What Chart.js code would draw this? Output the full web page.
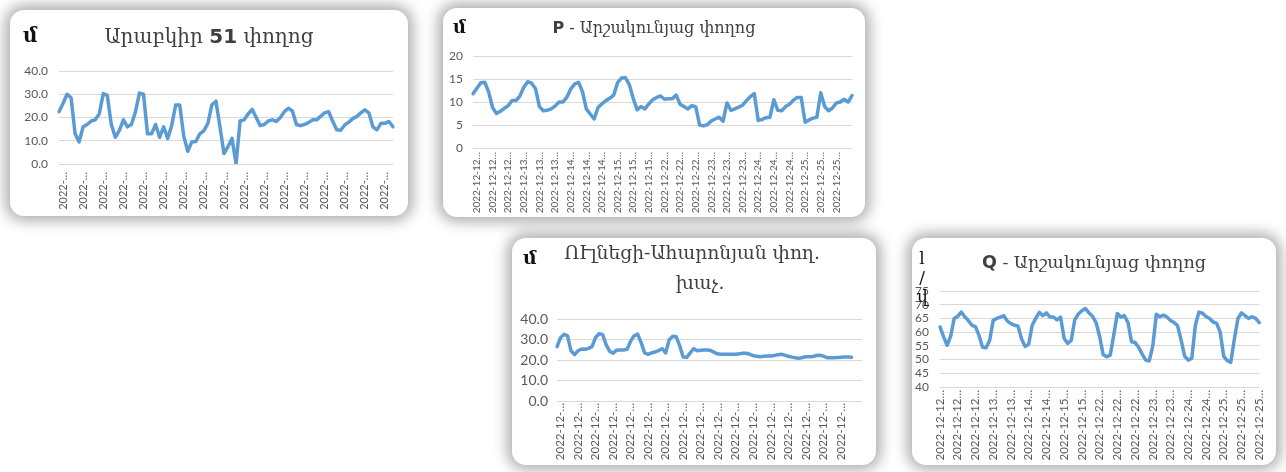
<!DOCTYPE html>
<html><head><meta charset="utf-8">
<script src="https://cdn.jsdelivr.net/npm/chart.js@4.4.1/dist/chart.umd.min.js"></script>
<style>
html,body{margin:0;padding:0;background:#fff;width:1286px;height:472px;overflow:hidden;}
.card{position:absolute;background:#fff;border-radius:14px;box-shadow:0 0 14px 5px rgba(0,0,0,0.32);}
.card canvas{position:absolute;left:0;top:0;}
.title{position:absolute;left:0;width:100%;text-align:center;font-family:"DejaVu Serif",serif;color:#404040;white-space:nowrap;}
.title b{font-family:"DejaVu Sans",sans-serif;font-weight:bold;}
.unit{position:absolute;font-family:"DejaVu Serif",serif;font-weight:bold;color:#111;}
</style></head>
<body>
<div class="card" style="left:10px;top:10px;width:398px;height:206px;">
  <canvas id="c1" width="398" height="206"></canvas>
  <div class="unit" style="left:13px;top:12px;font-size:20px;line-height:26px;">մ</div>
  <div class="title" style="top:12px;font-size:20px;line-height:28px;">Արաբկիր <b>51</b> փողոց</div>
</div>
<div class="card" style="left:443px;top:8px;width:422px;height:209px;">
  <canvas id="c2" width="422" height="209"></canvas>
  <div class="unit" style="left:10px;top:7px;font-size:18px;line-height:24px;">մ</div>
  <div class="title" style="top:8px;font-size:16px;line-height:24px;"><b>P</b> - Արշակունյաց փողոց</div>
</div>
<div class="card" style="left:512px;top:238px;width:364px;height:227px;">
  <canvas id="c3" width="364" height="227"></canvas>
  <div class="unit" style="left:11px;top:7px;font-size:19px;line-height:24px;">մ</div>
  <div class="title" style="top:0px;font-size:18.7px;line-height:30px;padding:0 28px 0 24px;box-sizing:border-box;">ՈՒլնեցի-Ահարոնյան փող.<br><span style="position:relative;left:8px;">խաչ.</span></div>
</div>
<div class="card" style="left:912px;top:238px;width:364px;height:227px;">
  <canvas id="c4" width="364" height="227"></canvas>
  <div class="unit" style="left:5px;top:11px;font-size:17px;line-height:19px;font-weight:normal;text-align:center;width:10px;">l<br>/<br>վ</div>
  <div class="title" style="top:12px;font-size:17.5px;line-height:24px;"><b>Q</b> - Արշակունյաց փողոց</div>
</div>
<script>
// ---- data ----
const xTicks1 = Array(17).fill('2022-…');
const vals1 = [22.5,26,30,28.5,13,9.5,16,17,18.5,19,
  21.5,30.3,29.5,17,11.5,14.5,19,16,17,22.5,
  30.5,30,13,13,17,11.5,16,11,16.5,25.4,
  25.4,12,5.5,9.5,9.7,13,14.3,17.5,25.5,27,
  16,4.5,7.5,11,0,18.5,19,21.5,23.5,20,
  16.5,17,18.5,19,18.3,20,22.5,24,22.8,17,
  16.5,17,17.8,19,19,20.5,22,22.5,18.5,14.7,
  14.5,16.8,18,19.5,20.4,22,23.3,22,16,14.7,
  17.5,17.5,18.3,16];

const xTicks2 = ['2022-12-12…','2022-12-12…','2022-12-12…','2022-12-13…','2022-12-13…','2022-12-13…',
  '2022-12-14…','2022-12-14…','2022-12-14…','2022-12-15…','2022-12-15…','2022-12-15…',
  '2022-12-22…','2022-12-22…','2022-12-22…','2022-12-23…','2022-12-23…','2022-12-23…',
  '2022-12-24…','2022-12-24…','2022-12-24…','2022-12-25…','2022-12-25…','2022-12-25…'];
const vals2 = [11.8,13,14.2,14.3,12.2,8.8,7.5,8,8.6,9.2,
  10.3,10.3,11.3,13.2,14.4,14.1,12.9,9,8.1,8.2,
  8.5,9.1,10,10,11,12.8,13.9,14.3,12.3,8.5,
  7.4,6.3,8.8,9.6,10.3,10.8,11.5,14.2,15.2,15.3,
  13.8,10.8,8.3,9,8.5,9.6,10.5,11,11.3,10.6,
  10.7,10.7,11.5,9.5,9,8.5,9.2,9,5,4.8,
  5.1,5.9,6.3,6.7,5.8,9.8,8.2,8.5,8.9,9.3,
  10.3,11.2,11.8,6,6.2,6.6,6.7,10.5,8.2,8.1,
  9,9.5,10.4,11,11,5.6,6.1,6.5,6.7,12,
  9,8.1,8.7,9.8,10,10.6,10,11.4];

const xTicks3 = Array(17).fill('2022-12-…');
const vals3 = [26.5,30.8,32.5,31.8,24.5,22.6,24.5,25.4,25.2,25.7,
  26.5,31,32.8,32.5,27.5,24.3,23.3,24.8,24.9,24.9,
  25.2,29.2,31.8,32.6,28.5,23.5,22.8,23.5,23.9,24.6,
  25.5,23.5,29.8,31.6,31.3,27,21.5,21.3,23.5,25.5,
  24.5,24.8,24.9,24.9,24.5,23.6,22.9,22.8,22.8,22.8,
  22.8,22.8,23,23.3,23.3,22.8,22.1,21.8,21.6,21.8,
  22,22,22.2,22.6,22.8,22.4,21.8,21.4,21.1,20.8,
  21.2,21.6,21.6,21.7,22.2,22.3,21.9,21.1,21.1,21.1,
  21.2,21.3,21.5,21.5,21.3];

const xTicks4 = ['2022-12-12…','2022-12-12…','2022-12-12…','2022-12-13…','2022-12-13…',
  '2022-12-14…','2022-12-14…','2022-12-15…','2022-12-15…','2022-12-22…','2022-12-22…',
  '2022-12-22…','2022-12-23…','2022-12-23…','2022-12-24…','2022-12-24…','2022-12-25…',
  '2022-12-25…','2022-12-25…'];
const vals4 = [61.9,58.4,55.2,58.5,65,65.8,67.3,65.6,64.2,62.5,
  62,58.8,54.5,54.3,57,64.3,65,65.5,66,64,
  63.1,62.5,62.2,57.5,54.8,55.6,62.5,65,67.2,66,
  67,65.5,65.5,64.5,65.5,57.7,55.9,57,64.5,66.6,
  67.8,68.6,67,65.8,63.5,58.5,51.8,51,51.6,59,
  66.8,65.5,66,63.5,56.5,56.2,54.5,52,49.8,49.5,
  55,66.5,65.6,66.2,65.5,64.2,63.5,62.3,57,51.2,
  49.8,50.5,62.5,67.3,66.9,65.7,65,63.7,63.2,60,
  51.2,49.6,49,57.5,65,67,66,65,65.6,65,
  63.5];

// ---- drawing ----
function makeChart(id, c) {
  const labels = Array.from({length: c.n}, (_, i) => i);
  return new Chart(document.getElementById(id), {
    type: 'line',
    data: { labels: labels, datasets: [{ data: c.values, borderColor: '#5b9bd5', borderWidth: 3.5,
      pointRadius: 0, tension: 0, fill: false, borderJoinStyle: 'round', borderCapStyle: 'round' }] },
    options: {
      responsive: false, animation: false, devicePixelRatio: 1,
      layout: { padding: c.pad },
      plugins: { legend: {display: false}, tooltip: {enabled: false}, title: {display: false} },
      scales: {
        x: { type: 'category', offset: false,
          grid: {display: false, drawTicks: false}, border: {display: false},
          ticks: { autoSkip: false, minRotation: 90, maxRotation: 90, padding: c.xPad, color: '#595959',
            font: {family: 'Lato', size: c.xFont},
            callback: (v, i) => (i >= c.t0 && (i - c.t0) % c.te === 0) ? c.ticks[(i - c.t0) / c.te] : null },
          afterFit: s => { s.height = c.xH; } },
        y: { min: c.min, max: c.max,
          grid: {color: '#d9d9d9', drawTicks: false, lineWidth: 1}, border: {display: false},
          ticks: { autoSkip: false, stepSize: c.step, padding: c.yPad, color: '#595959', font: {family: 'Lato', size: c.yFont},
            callback: v => v.toFixed(c.dec) },
          afterFit: s => { s.width = c.yW; } }
      }
    }
  });
}

makeChart('c1', {values: vals1, n: vals1.length, ticks: xTicks1, t0: 1, te: 5,
  pad: {top: 61, right: 15, left: 0, bottom: 0}, xH: 52, yW: 49, xPad: 8, yPad: 11,
  xFont: 11, yFont: 12, min: 0, max: 40, step: 10, dec: 1});
makeChart('c2', {values: vals2, n: vals2.length, ticks: xTicks2, t0: 1, te: 4,
  pad: {top: 48, right: 13, left: 0, bottom: 0}, xH: 69, yW: 30, xPad: 4, yPad: 10,
  xFont: 10, yFont: 12, min: 0, max: 20, step: 5, dec: 0});
makeChart('c3', {values: vals3, n: vals3.length + 3, ticks: xTicks3, t0: 1, te: 5,
  pad: {top: 81, right: 14, left: 0, bottom: 0}, xH: 64, yW: 45, xPad: 2, yPad: 9,
  xFont: 11.5, yFont: 14, min: 0, max: 40, step: 10, dec: 1});
makeChart('c4', {values: vals4, n: vals4.length, ticks: xTicks4, t0: 0, te: 5,
  pad: {top: 53, right: 13, left: 0, bottom: 0}, xH: 78, yW: 28, xPad: 3, yPad: 11,
  xFont: 11.5, yFont: 12, min: 40, max: 75, step: 5, dec: 0});
</script>
</body></html>
